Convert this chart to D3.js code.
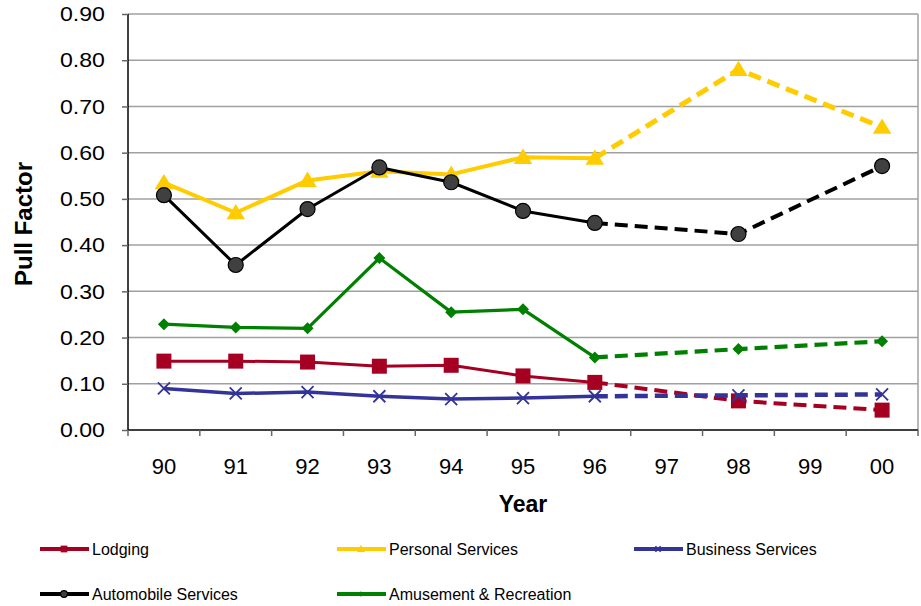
<!DOCTYPE html>
<html>
<head>
<meta charset="utf-8">
<script src="https://cdn.jsdelivr.net/npm/d3@7"></script>
<style>
  body { margin: 0; background: #fff; }
  text { font-family: "Liberation Sans", Arial, sans-serif; }
</style>
</head>
<body>
<svg id="chart" width="921" height="606"></svg>
<script>
// category axis, and the years that actually have data
const years = ["90", "91", "92", "93", "94", "95", "96", "97", "98", "99", "00"];
const dataYears = ["90", "91", "92", "93", "94", "95", "96", "98", "00"];
const yTicks = [0, 0.1, 0.2, 0.3, 0.4, 0.5, 0.6, 0.7, 0.8, 0.9];

const lodging    = [0.149, 0.149, 0.147, 0.138, 0.140, 0.117, 0.103, 0.063, 0.043];
const personal   = [0.535, 0.470, 0.540, 0.560, 0.553, 0.590, 0.588, 0.780, 0.655];
const business   = [0.090, 0.079, 0.082, 0.073, 0.067, 0.069, 0.073, 0.075, 0.077];
const automobile = [0.508, 0.357, 0.478, 0.568, 0.536, 0.474, 0.448, 0.424, 0.571];
const amusement  = [0.229, 0.222, 0.220, 0.372, 0.255, 0.261, 0.157, 0.175, 0.192];

const series = [
  {name: "Lodging", values: lodging, color: "#A50021", marker: "square", width: 3},
  {name: "Personal Services", values: personal, color: "#FFCC00", marker: "triangle", width: 4},
  {name: "Business Services", values: business, color: "#333399", marker: "cross", width: 3.5},
  {name: "Automobile Services", values: automobile, color: "#000000", marker: "circle", width: 3},
  {name: "Amusement & Recreation", values: amusement, color: "#008000", marker: "diamond", width: 3.2}
];

const svg = d3.select("#chart");
const margin = {top: 14, right: 3, bottom: 176, left: 128};
const W = 921, H = 606;

const x = d3.scaleBand().domain(years).range([margin.left, W - margin.right]);
const y = d3.scaleLinear().domain([0, 0.9]).range([H - margin.bottom, margin.top]);
const cx = yr => x(yr) + x.bandwidth() / 2;

// grid
svg.append("g")
  .selectAll("line")
  .data(yTicks.slice(1))
  .join("line")
  .attr("x1", margin.left).attr("x2", W - margin.right)
  .attr("y1", d => y(d)).attr("y2", d => y(d))
  .attr("stroke", "#a0a0a0").attr("stroke-width", 1.5);

// right border
svg.append("line")
  .attr("x1", W - margin.right).attr("x2", W - margin.right)
  .attr("y1", margin.top).attr("y2", y(0))
  .attr("stroke", "#a0a0a0").attr("stroke-width", 1.5);

// y axis
const yAxis = svg.append("g")
  .attr("transform", `translate(${margin.left},0)`)
  .call(d3.axisLeft(y).tickValues(yTicks).tickFormat(d3.format(".2f")).tickSize(6).tickPadding(15));
yAxis.select(".domain").attr("stroke", "#000").attr("stroke-width", 1.5).attr("d", `M0,${y(0.9)}V${y(0)}`);
yAxis.selectAll(".tick line").attr("stroke", "#666").attr("stroke-width", 1.5);
yAxis.selectAll("text").attr("font-size", 21).attr("fill", "#000")
  .attr("transform", "scale(1.1,1)")
  .style("font-family", "'Liberation Sans', Arial, sans-serif");

// x axis, ticks between categories
const xAxis = svg.append("g").attr("transform", `translate(0,${y(0)})`);
xAxis.append("line")
  .attr("x1", margin.left).attr("x2", W - margin.right)
  .attr("stroke", "#000").attr("stroke-width", 1.5);
xAxis.selectAll(".tk")
  .data(years.concat(["end"]))
  .join("line")
  .attr("class", "tk")
  .attr("x1", (d, i) => margin.left + i * x.bandwidth())
  .attr("x2", (d, i) => margin.left + i * x.bandwidth())
  .attr("y1", 0).attr("y2", 6)
  .attr("stroke", "#666").attr("stroke-width", 1.5);
xAxis.selectAll(".lbl")
  .data(years)
  .join("text")
  .attr("class", "lbl")
  .attr("x", d => cx(d))
  .attr("y", 44)
  .attr("text-anchor", "middle")
  .attr("font-size", 22)
  .text(d => d);

// axis titles
svg.append("text")
  .attr("x", (margin.left + W - margin.right) / 2).attr("y", 512)
  .attr("text-anchor", "middle").attr("font-size", 23).attr("font-weight", "bold")
  .text("Year");
svg.append("text")
  .attr("transform", `translate(32,${(margin.top + y(0)) / 2 + 2}) rotate(-90)`)
  .attr("text-anchor", "middle").attr("font-size", 24).attr("font-weight", "bold")
  .text("Pull Factor");

function drawMarker(g, type, color, size) {
  if (type === "square") {
    g.append("rect").attr("x", -size / 2).attr("y", -size / 2).attr("width", size).attr("height", size)
      .attr("fill", color);
  } else if (type === "triangle") {
    const s = size * 0.55;
    g.append("path").attr("d", `M0,${-s}L${s * 1.05},${s * 0.75}L${-s * 1.05},${s * 0.75}Z`).attr("fill", color);
  } else if (type === "circle") {
    g.append("circle").attr("r", size / 2).attr("fill", "#404040").attr("stroke", "#000").attr("stroke-width", 1.2);
  } else if (type === "diamond") {
    const s = size / 2;
    g.append("path").attr("d", `M0,${-s}L${s},0L0,${s}L${-s},0Z`).attr("fill", color);
  } else if (type === "cross") {
    const s = size / 2;
    g.append("path").attr("d", `M${-s},${-s}L${s},${s}M${-s},${s}L${s},${-s}`)
      .attr("stroke", color).attr("stroke-width", 1.8).attr("fill", "none");
  }
}

const markerSize = {square: 15, triangle: 16, circle: 15, diamond: 12, cross: 12};

const line = d3.line().x(d => cx(d.year)).y(d => y(d.v));
const split = dataYears.indexOf("96");

series.forEach(s => {
  const pts = dataYears.map((yr, i) => ({year: yr, v: s.values[i]}));
  const g = svg.append("g");
  g.append("path").datum(pts.slice(0, split + 1))
    .attr("d", line).attr("fill", "none").attr("stroke", s.color)
    .attr("stroke-width", s.width).attr("stroke-linejoin", "round");
  g.append("path").datum(pts.slice(split))
    .attr("d", line).attr("fill", "none").attr("stroke", s.color)
    .attr("stroke-width", s.width + 1).attr("stroke-dasharray", "13,7");
  pts.forEach(p => {
    const m = g.append("g").attr("transform", `translate(${cx(p.year)},${y(p.v)})`);
    drawMarker(m, s.marker, s.color, markerSize[s.marker]);
  });
});

// legend
const legendPos = [[40, 549], [337, 549], [634, 549], [40, 594], [337, 594]];
series.forEach((s, i) => {
  const [lx, ly] = legendPos[i];
  const g = svg.append("g").attr("transform", `translate(${lx},${ly})`);
  g.append("line").attr("x1", 0).attr("x2", 49).attr("stroke", s.color).attr("stroke-width", 4);
  const m = g.append("g").attr("transform", "translate(24,0)");
  drawMarker(m, s.marker, s.color, markerSize[s.marker] * 0.45);
  g.append("text").attr("x", 52).attr("y", 5.5).attr("font-size", 16).text(s.name);
});
</script>
</body>
</html>
